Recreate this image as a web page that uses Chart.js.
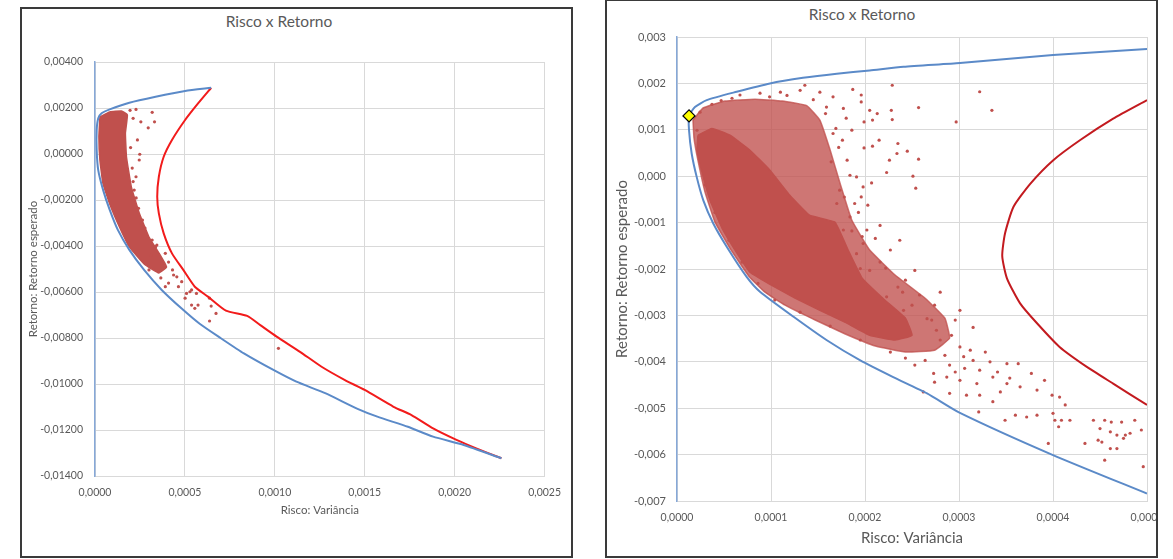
<!DOCTYPE html>
<html lang="pt">
<head>
<meta charset="utf-8">
<title>Risco x Retorno</title>
<script src="https://cdn.jsdelivr.net/npm/chart.js@4.4.1/dist/chart.umd.min.js"></script>
<style>
  html, body { margin: 0; padding: 0; background: #fff; }
  body { width: 1173px; height: 559px; position: relative; overflow: hidden; font-family: Lato, "Liberation Sans", sans-serif; }
  .box { position: absolute; border: 2px solid #3a3a3a; background: #fff; overflow: hidden; }
  #box1 { left: 20px; top: 7px; width: 549px; height: 547px; }
  #box2 { left: 605px; top: -1px; width: 549px; height: 555px; }
  .titulo { position: absolute; color: #595959; font-size: 15.5px; line-height: 1; white-space: nowrap; transform: translateX(-50%); }
  canvas { position: absolute; left: 0; top: 0; }
</style>
</head>
<body>
<div class="box" id="box1">
  <div class="titulo" style="left:257px; top:5px;">Risco x Retorno</div>
  <canvas id="chartEsq" width="549" height="547"></canvas>
</div>
<div class="box" id="box2">
  <div class="titulo" style="left:255px; top:6px;">Risco x Retorno</div>
  <canvas id="chartDir" width="575" height="555"></canvas>
</div>
<script>
// =======================================================================
// 1. DADOS - GRAFICO DA ESQUERDA  [variancia, retorno]
// =======================================================================
const esqTicksX = [0, 0.0005, 0.001, 0.0015, 0.002, 0.0025];
const esqTicksY = [-0.014, -0.012, -0.010, -0.008, -0.006, -0.004, -0.002, 0, 0.002, 0.004];

const esqFronteira = [
  [0.000646,0.00288],[0.000501,0.00274],[0.000337,0.00249],[0.000191,0.00223],[0.0000819,0.00194],
  [0.0000366,0.00177],[0.000018,0.00155],[0.0000093,0.00104],[0.0000093,0.00017],[0.000018,-0.0007],
  [0.0000453,-0.00157],[0.0000819,-0.00243],[0.000127,-0.0033],[0.000191,-0.00417],[0.000273,-0.00504],
  [0.000371,-0.00591],[0.000482,-0.00672],[0.000582,-0.00738],[0.0007,-0.00801],[0.000828,-0.00867],
  [0.000992,-0.00939],[0.00112,-0.0099],[0.00128,-0.0104],[0.00146,-0.01108],[0.00157,-0.01142],
  [0.00174,-0.01186],[0.00188,-0.01229],[0.00205,-0.01265],[0.00226,-0.01323]
];

const esqCurvaVermelha = [
  [0.000646,0.00288],[0.000573,0.0022],[0.000501,0.00148],[0.000428,0.00061],[0.000382,-0.00012],
  [0.000355,-0.00099],[0.000346,-0.00186],[0.000355,-0.00258],[0.000382,-0.00345],[0.000428,-0.00432],
  [0.000491,-0.00504],[0.000555,-0.00577],[0.000628,-0.0062],[0.000728,-0.00681],[0.000846,-0.00704],
  [0.000919,-0.00744],[0.00101,-0.00794],[0.00114,-0.0086],[0.00126,-0.00925],[0.00139,-0.00983],
  [0.0015,-0.01026],[0.00166,-0.01099],[0.00176,-0.01135],[0.00188,-0.01193],[0.00201,-0.01243],
  [0.00212,-0.0128],[0.00226,-0.01323]
];

// contorno da nuvem densa de carteiras simuladas
const esqNuvem = [
  [0.0000273,0.00161],[0.0000819,0.00183],[0.000147,0.00187],[0.00018,0.0017],[0.000169,0.00091],
  [0.000175,-0.00013],[0.000202,-0.00143],[0.000246,-0.00257],[0.0003,-0.00361],[0.000355,-0.0043],
  [0.000398,-0.00491],[0.000355,-0.00517],[0.000273,-0.00478],[0.000191,-0.00404],[0.000136,-0.00317],
  [0.0000819,-0.00217],[0.0000437,-0.00126],[0.0000273,-0.00026],[0.0000218,0.00074],[0.0000273,0.00161]
];

// carteiras isoladas fora da nuvem
const esqPontos = [
  [0.000228,0.00194],[0.000318,0.00181],[0.000331,0.0014],[0.000296,0.00114],[0.000255,0.0014],
  [0.000236,0.00061],[0.000249,-0.00001],[0.000246,-0.00026],[0.000228,-0.00099],[0.000218,-0.00157],
  [0.000242,-0.00236],[0.000264,-0.00287],[0.000318,-0.00374],[0.000337,-0.00403],[0.000391,-0.00432],
  [0.000373,-0.00475],[0.000455,-0.00534],[0.000464,-0.00577],[0.000509,-0.00606],[0.000537,-0.00591],
  [0.000437,-0.00526],[0.000409,-0.00561],[0.000391,-0.00577],[0.000482,-0.00555],[0.000528,-0.00599],
  [0.000501,-0.00627],[0.000564,-0.00606],[0.000537,-0.00657],[0.000573,-0.00657],[0.000555,-0.00671],
  [0.000637,-0.00627],[0.000646,-0.00661],[0.000673,-0.00693],[0.000637,-0.00726],[0.00102,-0.00845],
  [0.000207,-0.00061],[0.000229,-0.00191],[0.000278,-0.00322],[0.000344,-0.00396],[0.000409,-0.0047],
  [0.000431,-0.00504],[0.0003,-0.00504],[0.000366,-0.00539],[0.000195,0.0019],[0.000212,0.00155],
  [0.000198,0.00028],[0.000212,-0.0012],[0.000255,-0.003],[0.000312,-0.0044]
];

// =======================================================================
// 2. DADOS - GRAFICO DA DIREITA (zoom)
// =======================================================================
const dirTicksX = [0, 0.0001, 0.0002, 0.0003, 0.0004, 0.0005];
const dirTicksY = [-0.007, -0.006, -0.005, -0.004, -0.003, -0.002, -0.001, 0, 0.001, 0.002, 0.003];

const dirFronteira = [
  [0.0005,0.00274],[0.0004,0.00261],[0.000301,0.00244],[0.000241,0.00236],[0.000205,0.00228],
  [0.00017,0.00221],[0.000134,0.00212],[0.0000989,0.002],[0.0000635,0.00182],[0.0000316,0.00164],
  [0.0000191,0.00149],[0.0000128,0.0013],[0.0000128,0.00099],[0.0000156,0.00049],[0.000021,-0.00002],
  [0.000028,-0.00052],[0.0000386,-0.00102],[0.0000529,-0.00152],[0.0000741,-0.00217],[0.0000883,-0.00249],
  [0.000124,-0.00303],[0.000159,-0.00353],[0.000195,-0.00397],[0.00023,-0.00433],[0.000266,-0.00468],
  [0.000301,-0.0051],[0.0004,-0.00601],[0.0005,-0.00684]
];

const dirCurvaVermelha = [
  [0.0005,0.00164],[0.000464,0.00124],[0.000429,0.00078],[0.0004,0.00034],[0.000376,-0.00016],
  [0.000358,-0.00066],[0.000349,-0.00123],[0.000346,-0.00172],[0.000351,-0.0022],[0.000365,-0.00274],
  [0.000383,-0.00317],[0.000407,-0.00368],[0.000436,-0.00411],[0.000464,-0.00447],[0.0005,-0.00493]
];

// carteira de minima variancia (losango amarelo)
const dirMinVar = [[0.0000128, 0.0013]];

const dirNucleo = [
  [0.0000223,0.000884],[0.0000372,0.00103],[0.0000564,0.000884],[0.0000777,0.00056],[0.0000989,0.000129],
  [0.00012,-0.00041],[0.000141,-0.00084],[0.000168,-0.00099],[0.000182,-0.00159],[0.000197,-0.0022],
  [0.000221,-0.00267],[0.000243,-0.00306],[0.00025,-0.00343],[0.000232,-0.00353],[0.000205,-0.00343],
  [0.000179,-0.00315],[0.000152,-0.00289],[0.000126,-0.00263],[0.0000989,-0.00233],[0.0000777,-0.00207],
  [0.0000617,-0.00159],[0.0000479,-0.00112],[0.0000351,-0.00052],[0.0000266,0.0000862],[0.0000213,0.00056],
  [0.0000223,0.000884]
];

const dirNuvem = [
  [0.000017,0.00121],[0.0000277,0.00147],[0.0000511,0.00162],[0.000083,0.00166],[0.000112,0.00162],
  [0.000138,0.00152],[0.000152,0.00121],[0.000163,0.00056],[0.000174,-0.00019],[0.000186,-0.00095],
  [0.000205,-0.00159],[0.000232,-0.00213],[0.000264,-0.00263],[0.000285,-0.00306],[0.00029,-0.00349],
  [0.000274,-0.00375],[0.000243,-0.00379],[0.000211,-0.00366],[0.000179,-0.0034],[0.000147,-0.0031],
  [0.000115,-0.00278],[0.0000936,-0.0025],[0.0000766,-0.00216],[0.0000574,-0.00159],[0.0000404,-0.00099],
  [0.0000298,-0.00034],[0.0000223,0.00034],[0.0000181,0.00082],[0.000017,0.00121]
];

const dirPontos = [
  [0.000187,0.00187],[0.000196,0.00175],[0.000229,0.00196],[0.000196,0.0016],[0.000205,0.00142],
  [0.000213,0.00135],[0.000208,0.00121],[0.000199,0.00117],[0.000228,0.00142],[0.000229,0.00122],
  [0.000257,0.00148],[0.000215,0.000776],[0.000208,0.000647],[0.000199,0.00061],[0.000235,0.000705],
  [0.000245,0.000539],[0.000257,0.000366],[0.000226,0.000345],[0.000223,0.00008],[0.000251,0],
  [0.000254,-0.000259],[0.000207,-0.000144],[0.000198,-0.000231],[0.000191,-0.000015],[0.000196,-0.000446],
  [0.000189,-0.000588],[0.000202,-0.00116],[0.000227,-0.00159],[0.000184,-0.000877],[0.000177,-0.00116],
  [0.00017,-0.000588],[0.000173,-0.000302],[0.000181,0.000345],[0.000186,0.000991],[0.000177,0.00146],
  [0.000159,0.00149],[0.000166,0.00171],[0.000322,0.00182],[0.000335,0.00142],[0.000297,0.00117],
  [0.000234,0.000489],[0.000198,-0.00145],[0.000191,-0.00167],[0.000205,-0.00203],[0.000195,-0.00199],
  [0.000235,-0.00239],[0.000223,-0.0026],[0.00025,-0.00278],[0.000241,-0.00289],[0.000266,-0.00307],
  [0.000271,-0.0031],[0.000276,-0.00332],[0.000315,-0.00326],[0.000292,-0.00343],[0.000301,-0.00368],
  [0.000305,-0.00389],[0.000315,-0.00397],[0.000333,-0.004],[0.000351,-0.00404],[0.000363,-0.00404],
  [0.000377,-0.00425],[0.000391,-0.0044],[0.000322,-0.00418],[0.000336,-0.00433],[0.000351,-0.00447],
  [0.000365,-0.00454],[0.000383,-0.00461],[0.000399,-0.00472],[0.000407,-0.00476],[0.000413,-0.00493],
  [0.000319,-0.00447],[0.000301,-0.0044],[0.000287,-0.00433],[0.000273,-0.00425],[0.000262,-0.00465],
  [0.00029,-0.00468],[0.000308,-0.00472],[0.000321,-0.00508],[0.000336,-0.00486],[0.000349,-0.00526],
  [0.00036,-0.00515],[0.000372,-0.00519],[0.000383,-0.00515],[0.0004,-0.00511],[0.000402,-0.00526],
  [0.000409,-0.00526],[0.000418,-0.00526],[0.000406,-0.0054],[0.000395,-0.00576],[0.000434,-0.00576],
  [0.000443,-0.00526],[0.000455,-0.00526],[0.000462,-0.0053],[0.000473,-0.0053],[0.000487,-0.00526],
  [0.00045,-0.00544],[0.000461,-0.00551],[0.000468,-0.00558],[0.000477,-0.00558],[0.000482,-0.00554],
  [0.000494,-0.00547],[0.000448,-0.00569],[0.000452,-0.00573],[0.000461,-0.00587],[0.000468,-0.00587],
  [0.000475,-0.00565],[0.000455,-0.00612],[0.000496,-0.00626],[0.00028,-0.00353],[0.000285,-0.00386],
  [0.000264,-0.00397],[0.000253,-0.00407],[0.000243,-0.00392],[0.00029,-0.00407],[0.000274,-0.00444],
  [0.000296,-0.00422],[0.000312,-0.00375],[0.000328,-0.00379],[0.000306,-0.00414],[0.000341,-0.00422],
  [0.000354,-0.00435],[0.000322,-0.00472],[0.000344,-0.00465],[0.000152,0.00181],[0.000131,0.00185],
  [0.00011,0.00181],[0.0000883,0.00179],[0.000067,0.00175],[0.000136,0.00196],[0.000176,0.000776],
  [0.000184,0.00002],[0.000193,-0.00078],[0.000211,-0.00134],[0.000216,-0.00185],[0.000243,-0.00224],
  [0.000258,-0.00256],[0.000274,-0.00278],[0.000296,-0.0031],[0.0000245,0.00138],[0.0000372,0.00155],
  [0.0000585,0.00168],[0.000169,0.00103],[0.00018,0.00125],[0.000203,-0.000625],[0.000216,-0.00106],
  [0.000237,-0.00138],[0.000253,-0.00203],[0.00028,-0.0025],[0.000301,-0.00289],[0.0000862,-0.00231],
  [0.000104,-0.00267],[0.000131,-0.00293],[0.000163,-0.00323],[0.000195,-0.00353],[0.000227,-0.00379],
  [0.0000691,-0.00185],[0.0000553,-0.00138],[0.0000404,-0.00078],[0.0000298,-0.00019],[0.0000213,0.00099],
  [0.000145,0.00165],[0.000158,0.00135],[0.000166,0.00092],[0.000172,0.00062],[0.000164,0.00031],
  [0.000178,-0.00045],[0.000186,-0.00118],[0.000197,-0.0013],[0.000222,-0.00198],[0.00024,-0.0025],
  [0.000117,0.00174],[0.0000985,0.00171],[0.000047,0.00163]
];

// =======================================================================
// 3. ESTILOS
// =======================================================================
const COR_TEXTO = '#595959';
const COR_GRADE = '#d9d9d9';
const COR_AZUL = '#5b8ac8';
const COR_PONTOS = '#c0504d';
const FONTE = 'Lato, "Liberation Sans", sans-serif';

function pares(lista) {
  return lista.map(p => ({ x: p[0], y: p[1] }));
}

function serieLinha(lista, cor, largura) {
  return { data: pares(lista), showLine: true, borderColor: cor, borderWidth: largura,
           pointRadius: 0, tension: 0.2, fill: false };
}

function serieNuvem(lista, cor) {
  return { data: pares(lista), showLine: true, borderColor: cor, borderWidth: 1.5,
           backgroundColor: cor, fill: 'shape', pointRadius: 0, tension: 0.1 };
}

function seriePontos(lista) {
  return { data: pares(lista), pointRadius: 1.6, backgroundColor: COR_PONTOS, borderWidth: 0 };
}

// eixo com ticks fixos e tamanho fixo (para alinhar a area do grafico)
function eixo(cfg) {
  return {
    type: 'linear',
    min: cfg.ticks[0],
    max: cfg.ticks[cfg.ticks.length - 1],
    afterBuildTicks: (scale) => { scale.ticks = cfg.ticks.map(v => ({ value: v })); },
    afterFit: (scale) => {
      if (cfg.largura) scale.width = cfg.largura;
      if (cfg.altura) scale.height = cfg.altura;
    },
    grid: { color: COR_GRADE, lineWidth: 1, drawTicks: false },
    border: { color: cfg.corBorda || COR_GRADE, width: cfg.larguraBorda || 1 },
    ticks: {
      autoSkip: false, maxRotation: 0, padding: cfg.padTicks, color: COR_TEXTO,
      font: { family: FONTE, size: cfg.tamTicks },
      callback: (v) => Number(v).toFixed(cfg.casas).replace('.', ',')
    },
    title: {
      display: true, text: cfg.titulo, color: COR_TEXTO,
      font: { family: FONTE, size: cfg.tamTitulo },
      padding: cfg.padTitulo
    }
  };
}

function criarGrafico(id, datasets, padTop, padRight, eixoX, eixoY) {
  const ctx = document.getElementById(id).getContext('2d');
  return new Chart(ctx, {
    type: 'scatter',
    data: { datasets: datasets },
    options: {
      responsive: false,
      animation: false,
      events: [],
      layout: { padding: { top: padTop, right: padRight, bottom: 0, left: 0 } },
      plugins: { legend: { display: false }, tooltip: { enabled: false } },
      scales: { x: eixoX, y: eixoY }
    }
  });
}

// =======================================================================
// 4. GRAFICOS
// =======================================================================
criarGrafico('chartEsq', [
    serieLinha(esqFronteira, COR_AZUL, 2),
    serieLinha(esqCurvaVermelha, '#f21b1b', 2),
    seriePontos(esqPontos),
    serieNuvem(esqNuvem, '#c0504d')
  ], 53, 18,
  eixo({ ticks: esqTicksX, casas: 4, altura: 80, padTicks: 10, tamTicks: 10.5,
         titulo: 'Risco: Variância', tamTitulo: 11.5, padTitulo: { top: 0, bottom: 39 } }),
  eixo({ ticks: esqTicksY, casas: 5, largura: 73, padTicks: 12, tamTicks: 10.5,
         corBorda: '#86a8d8', larguraBorda: 1.5,
         titulo: 'Retorno: Retorno esperado', tamTitulo: 11.5, padTitulo: { top: 4, bottom: 0 } })
);

const losango = {
  data: pares(dirMinVar), pointStyle: 'rectRot', pointRadius: 6,
  backgroundColor: '#ffff00', borderColor: '#000000', borderWidth: 1.3
};

criarGrafico('chartDir', [
    losango,
    serieLinha(dirFronteira, COR_AZUL, 2),
    serieLinha(dirCurvaVermelha, '#c31a1f', 2),
    seriePontos(dirPontos),
    serieNuvem(dirNucleo, '#c0504d'),
    serieNuvem(dirNuvem, 'rgba(192, 80, 77, 0.78)')
  ], 36, 35,
  eixo({ ticks: dirTicksX, casas: 4, altura: 55, padTicks: 10, tamTicks: 10.5,
         titulo: 'Risco: Variância', tamTitulo: 15, padTitulo: { top: 0, bottom: 9 } }),
  eixo({ ticks: dirTicksY, casas: 3, largura: 70, padTicks: 11, tamTicks: 11,
         corBorda: '#86a8d8', larguraBorda: 1.5,
         titulo: 'Retorno: Retorno esperado', tamTitulo: 15, padTitulo: { top: 6, bottom: 0 } })
);
</script>
</body>
</html>
